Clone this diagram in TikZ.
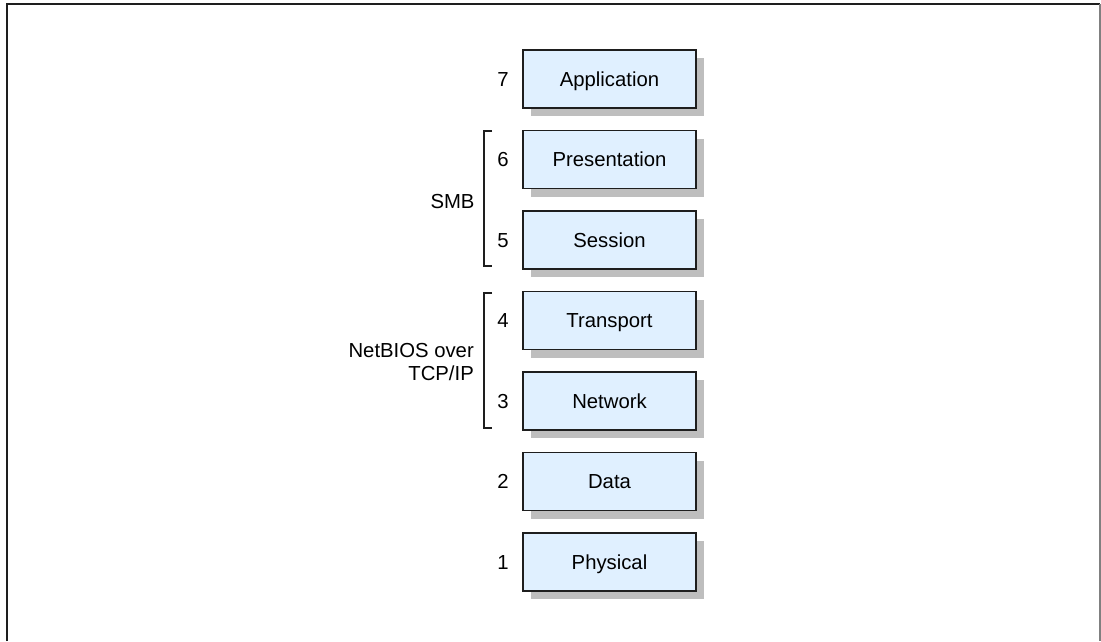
\documentclass[tikz,border=0pt]{standalone}
\usepackage{fontspec}
\setmainfont{Liberation Sans}
\usetikzlibrary{shadows,calc}
\definecolor{boxfill}{RGB}{224,240,255}
\definecolor{boxline}{RGB}{30,30,30}
\definecolor{shadowgray}{RGB}{190,190,190}
\begin{document}
\begin{tikzpicture}[x=1pt,y=-1pt,
  layer/.style={draw=boxline, line width=1.8pt, fill=boxfill, minimum width=173pt, minimum height=58pt,
    inner sep=0pt, font=\fontsize{20.3}{23}\selectfont, text height=14.5pt, text depth=0pt,
    drop shadow={shadow xshift=8pt, shadow yshift=-8pt, fill=shadowgray, opacity=1}},
  num/.style={font=\fontsize{20.3}{23}\selectfont, inner sep=0pt, text height=14.5pt, text depth=0pt},
  lbl/.style={font=\fontsize{20.3}{22.7}\selectfont, inner sep=0pt, align=right},
  brk/.style={draw=boxline, line width=1.3pt}]
\useasboundingbox (0,0) rectangle (1101,641);
% frame
\draw[line width=2pt, draw=boxline] (7,641) -- (7,4) -- (1100,4);
\draw[line width=1.5pt, draw=gray] (1100,4) -- (1100,641);
% layers
\node[layer] (l7) at (609.5,79) {Application};
\node[layer] (l6) at (609.5,159.5) {Presentation};
\node[layer] (l5) at (609.5,240) {Session};
\node[layer] (l4) at (609.5,320.5) {Transport};
\node[layer] (l3) at (609.5,401) {Network};
\node[layer] (l2) at (609.5,481.5) {Data};
\node[layer] (l1) at (609.5,562) {Physical};
% numbers
\foreach \i in {1,...,7} {
  \node[num] (n\i) at ($(l\i.west)+(-19pt,0)$) {\i};
}
% brackets
\coordinate (s1) at (492,131);
\coordinate (s2) at (492,266);
\draw[brk] (s1) -- (484,131) -- (484,266) -- (s2);
\coordinate (t1) at (492,293);
\coordinate (t2) at (492,428);
\draw[brk] (t1) -- (484,293) -- (484,428) -- (t2);
% labels
\node[lbl, text height=14.5pt, text depth=0pt] (smb) at (452.5,201) {SMB};
\node[lbl, anchor=base east] (nb) at (474,380) {NetBIOS over\\TCP/IP};
\end{tikzpicture}
\end{document}
